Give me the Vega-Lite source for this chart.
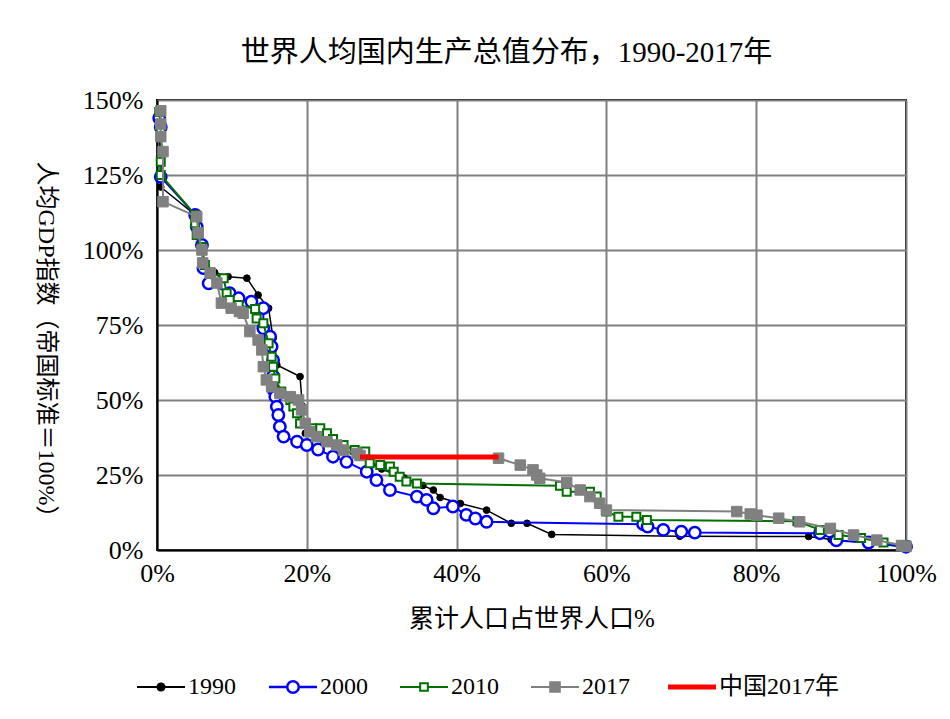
{
  "$schema": "https://vega.github.io/schema/vega-lite/v6.json",
  "width": 749,
  "height": 450,
  "autosize": {"type": "none"},
  "padding": {"left": 157, "top": 100, "right": 44, "bottom": 169},
  "background": "#ffffff",
  "title": {
    "text": "世界人均国内生产总值分布，1990-2017年",
    "font": "Liberation Serif, Noto Sans CJK SC",
    "fontSize": 29,
    "fontWeight": "normal",
    "color": "#000000",
    "anchor": "middle",
    "frame": "group",
    "dx": -25,
    "offset": 19
  },
  "config": {
    "view": {"stroke": "#000000", "strokeWidth": 2},
    "axis": {
      "labelFont": "Liberation Serif",
      "labelFontSize": 26,
      "labelColor": "#000000",
      "labelFlush": false,
      "titleFont": "Liberation Serif, Noto Sans CJK SC",
      "titleFontWeight": "normal",
      "titleColor": "#000000",
      "grid": true,
      "gridColor": "#808080",
      "gridWidth": 2,
      "gridOpacity": 1,
      "domainColor": "#000000",
      "domainWidth": 2,
      "ticks": false
    }
  },
  "data": {
    "values": [
      {"s": "1990", "x": 0.3, "y": 144},
      {"s": "1990", "x": 0.5, "y": 121},
      {"s": "1990", "x": 5.1, "y": 111.7},
      {"s": "1990", "x": 5.3, "y": 108},
      {"s": "1990", "x": 6.0, "y": 101},
      {"s": "1990", "x": 6.5, "y": 93},
      {"s": "1990", "x": 7.7, "y": 92.5},
      {"s": "1990", "x": 9.5, "y": 91.1},
      {"s": "1990", "x": 12.0, "y": 90.6},
      {"s": "1990", "x": 13.5, "y": 85},
      {"s": "1990", "x": 14.9, "y": 80.6},
      {"s": "1990", "x": 15.5, "y": 70.6},
      {"s": "1990", "x": 15.5, "y": 66.7},
      {"s": "1990", "x": 16.0, "y": 61.7},
      {"s": "1990", "x": 19.1, "y": 57.8},
      {"s": "1990", "x": 19.4, "y": 48},
      {"s": "1990", "x": 19.8, "y": 38.9},
      {"s": "1990", "x": 22.0, "y": 37},
      {"s": "1990", "x": 24.5, "y": 34},
      {"s": "1990", "x": 27.0, "y": 31},
      {"s": "1990", "x": 30.0, "y": 27},
      {"s": "1990", "x": 33.0, "y": 24},
      {"s": "1990", "x": 35.5, "y": 21.5},
      {"s": "1990", "x": 36.9, "y": 20},
      {"s": "1990", "x": 37.8, "y": 17.5},
      {"s": "1990", "x": 40.5, "y": 15.5},
      {"s": "1990", "x": 44.0, "y": 13.3},
      {"s": "1990", "x": 47.3, "y": 8.9},
      {"s": "1990", "x": 49.4, "y": 8.9},
      {"s": "1990", "x": 52.7, "y": 5.2},
      {"s": "1990", "x": 69.8, "y": 4.6},
      {"s": "1990", "x": 87.0, "y": 4.5},
      {"s": "1990", "x": 90.0, "y": 3.5},
      {"s": "1990", "x": 95.0, "y": 2.3},
      {"s": "1990", "x": 100, "y": 1},
      {"s": "2000", "x": 0.3, "y": 144},
      {"s": "2000", "x": 0.5, "y": 141},
      {"s": "2000", "x": 0.5, "y": 124.4},
      {"s": "2000", "x": 5.1, "y": 111.7},
      {"s": "2000", "x": 5.3, "y": 107.8},
      {"s": "2000", "x": 6.0, "y": 101.7},
      {"s": "2000", "x": 6.2, "y": 94},
      {"s": "2000", "x": 6.9, "y": 88.9},
      {"s": "2000", "x": 9.7, "y": 85.6},
      {"s": "2000", "x": 10.9, "y": 83.9},
      {"s": "2000", "x": 12.6, "y": 82.8},
      {"s": "2000", "x": 14.2, "y": 80.6},
      {"s": "2000", "x": 14.2, "y": 73.9},
      {"s": "2000", "x": 15.1, "y": 71.1},
      {"s": "2000", "x": 15.3, "y": 67.8},
      {"s": "2000", "x": 15.5, "y": 63.3},
      {"s": "2000", "x": 15.5, "y": 58},
      {"s": "2000", "x": 15.6, "y": 53.3},
      {"s": "2000", "x": 15.8, "y": 51.1},
      {"s": "2000", "x": 16.0, "y": 47.8},
      {"s": "2000", "x": 16.2, "y": 45},
      {"s": "2000", "x": 16.4, "y": 41.1},
      {"s": "2000", "x": 16.9, "y": 37.8},
      {"s": "2000", "x": 18.7, "y": 36.1},
      {"s": "2000", "x": 20.0, "y": 35},
      {"s": "2000", "x": 21.5, "y": 33.5},
      {"s": "2000", "x": 23.5, "y": 31.1},
      {"s": "2000", "x": 25.3, "y": 29.4},
      {"s": "2000", "x": 28.0, "y": 26.1},
      {"s": "2000", "x": 29.3, "y": 23.3},
      {"s": "2000", "x": 31.1, "y": 20},
      {"s": "2000", "x": 34.7, "y": 17.8},
      {"s": "2000", "x": 36.0, "y": 16.7},
      {"s": "2000", "x": 36.9, "y": 13.9},
      {"s": "2000", "x": 39.5, "y": 14.5},
      {"s": "2000", "x": 41.3, "y": 11.7},
      {"s": "2000", "x": 42.5, "y": 10.5},
      {"s": "2000", "x": 44.0, "y": 9.4},
      {"s": "2000", "x": 64.9, "y": 8.6},
      {"s": "2000", "x": 65.5, "y": 7.8},
      {"s": "2000", "x": 67.6, "y": 6.7},
      {"s": "2000", "x": 70.0, "y": 6.1},
      {"s": "2000", "x": 71.8, "y": 5.8},
      {"s": "2000", "x": 88.5, "y": 5.6},
      {"s": "2000", "x": 90.7, "y": 3.2},
      {"s": "2000", "x": 95.0, "y": 2.5},
      {"s": "2000", "x": 100, "y": 1.1},
      {"s": "2010", "x": 0.3, "y": 146},
      {"s": "2010", "x": 0.5, "y": 140},
      {"s": "2010", "x": 0.5, "y": 129.4},
      {"s": "2010", "x": 0.5, "y": 125},
      {"s": "2010", "x": 5.1, "y": 111.7},
      {"s": "2010", "x": 5.1, "y": 108.9},
      {"s": "2010", "x": 5.3, "y": 105},
      {"s": "2010", "x": 6.0, "y": 101},
      {"s": "2010", "x": 6.4, "y": 95},
      {"s": "2010", "x": 7.1, "y": 92.5},
      {"s": "2010", "x": 8.9, "y": 90.6},
      {"s": "2010", "x": 9.3, "y": 85.6},
      {"s": "2010", "x": 9.7, "y": 83.3},
      {"s": "2010", "x": 10.9, "y": 81.7},
      {"s": "2010", "x": 13.1, "y": 80.3},
      {"s": "2010", "x": 13.3, "y": 77.2},
      {"s": "2010", "x": 14.2, "y": 75.6},
      {"s": "2010", "x": 14.9, "y": 68.9},
      {"s": "2010", "x": 15.3, "y": 64.4},
      {"s": "2010", "x": 15.5, "y": 61.1},
      {"s": "2010", "x": 15.8, "y": 57.2},
      {"s": "2010", "x": 16.6, "y": 52.8},
      {"s": "2010", "x": 17.8, "y": 50},
      {"s": "2010", "x": 18.2, "y": 47.8},
      {"s": "2010", "x": 18.7, "y": 45.6},
      {"s": "2010", "x": 19.1, "y": 42.2},
      {"s": "2010", "x": 20.7, "y": 40.6},
      {"s": "2010", "x": 21.8, "y": 40.6},
      {"s": "2010", "x": 22.7, "y": 38.9},
      {"s": "2010", "x": 23.5, "y": 37},
      {"s": "2010", "x": 24.9, "y": 35},
      {"s": "2010", "x": 26.4, "y": 33.3},
      {"s": "2010", "x": 27.8, "y": 32.8},
      {"s": "2010", "x": 28.4, "y": 28.9},
      {"s": "2010", "x": 29.8, "y": 28.3},
      {"s": "2010", "x": 31.1, "y": 27.8},
      {"s": "2010", "x": 31.6, "y": 26.1},
      {"s": "2010", "x": 32.4, "y": 24.4},
      {"s": "2010", "x": 33.3, "y": 22.8},
      {"s": "2010", "x": 34.7, "y": 22.2},
      {"s": "2010", "x": 53.8, "y": 21.4},
      {"s": "2010", "x": 54.7, "y": 19.4},
      {"s": "2010", "x": 57.8, "y": 19.4},
      {"s": "2010", "x": 58.7, "y": 17.8},
      {"s": "2010", "x": 60.0, "y": 12.8},
      {"s": "2010", "x": 61.6, "y": 11.1},
      {"s": "2010", "x": 64.0, "y": 11.1},
      {"s": "2010", "x": 65.4, "y": 10},
      {"s": "2010", "x": 85.5, "y": 9.6},
      {"s": "2010", "x": 88.5, "y": 6.7},
      {"s": "2010", "x": 91.0, "y": 5},
      {"s": "2010", "x": 94.0, "y": 4},
      {"s": "2010", "x": 97.0, "y": 2.5},
      {"s": "2010", "x": 100, "y": 1.5},
      {"s": "2017", "x": 0.5, "y": 146.4},
      {"s": "2017", "x": 0.5, "y": 142},
      {"s": "2017", "x": 0.5, "y": 137.8},
      {"s": "2017", "x": 0.8, "y": 132.8},
      {"s": "2017", "x": 0.8, "y": 116.1},
      {"s": "2017", "x": 5.3, "y": 111.1},
      {"s": "2017", "x": 5.5, "y": 105.7},
      {"s": "2017", "x": 6.0, "y": 100},
      {"s": "2017", "x": 6.1, "y": 95.7},
      {"s": "2017", "x": 7.1, "y": 92.3},
      {"s": "2017", "x": 8.0, "y": 89},
      {"s": "2017", "x": 8.6, "y": 82.3},
      {"s": "2017", "x": 9.9, "y": 80.6},
      {"s": "2017", "x": 11.0, "y": 79.5},
      {"s": "2017", "x": 11.5, "y": 78.9},
      {"s": "2017", "x": 12.4, "y": 72.8},
      {"s": "2017", "x": 13.5, "y": 70},
      {"s": "2017", "x": 14.0, "y": 66.7},
      {"s": "2017", "x": 14.2, "y": 61.1},
      {"s": "2017", "x": 14.6, "y": 56.7},
      {"s": "2017", "x": 15.3, "y": 54.4},
      {"s": "2017", "x": 16.4, "y": 52.2},
      {"s": "2017", "x": 17.8, "y": 51.1},
      {"s": "2017", "x": 18.9, "y": 50},
      {"s": "2017", "x": 19.3, "y": 46.7},
      {"s": "2017", "x": 19.8, "y": 42.2},
      {"s": "2017", "x": 20.4, "y": 39.4},
      {"s": "2017", "x": 21.3, "y": 37.8},
      {"s": "2017", "x": 22.7, "y": 36.1},
      {"s": "2017", "x": 24.0, "y": 35},
      {"s": "2017", "x": 24.9, "y": 33.3},
      {"s": "2017", "x": 26.7, "y": 32.2},
      {"s": "2017", "x": 27.1, "y": 31.5},
      {"s": "2017", "x": 45.6, "y": 30.6},
      {"s": "2017", "x": 48.5, "y": 28.3},
      {"s": "2017", "x": 50.2, "y": 26.7},
      {"s": "2017", "x": 50.7, "y": 25},
      {"s": "2017", "x": 51.1, "y": 23.9},
      {"s": "2017", "x": 54.7, "y": 22.5},
      {"s": "2017", "x": 56.5, "y": 20},
      {"s": "2017", "x": 57.8, "y": 17.8},
      {"s": "2017", "x": 59.1, "y": 15.6},
      {"s": "2017", "x": 60.0, "y": 13.3},
      {"s": "2017", "x": 77.4, "y": 12.8},
      {"s": "2017", "x": 79.2, "y": 12},
      {"s": "2017", "x": 80.1, "y": 11.6},
      {"s": "2017", "x": 83.0, "y": 10.6},
      {"s": "2017", "x": 85.8, "y": 9.4},
      {"s": "2017", "x": 89.9, "y": 7.2},
      {"s": "2017", "x": 93.0, "y": 5},
      {"s": "2017", "x": 96.1, "y": 3.3},
      {"s": "2017", "x": 99.4, "y": 1.5},
      {"s": "2017", "x": 100, "y": 1.2},
      {"s": "中国2017年", "x": 27.1, "y": 31},
      {"s": "中国2017年", "x": 45.6, "y": 31}
    ]
  },
  "transform": [
    {"window": [{"op": "row_number", "as": "i"}], "groupby": ["s"]}
  ],
  "encoding": {
    "x": {
      "field": "x", "type": "quantitative",
      "scale": {"domain": [0, 100], "nice": false},
      "axis": {
        "values": [0, 20, 40, 60, 80, 100],
        "labelExpr": "datum.value + '%'",
        "labelPadding": 10,
        "title": "累计人口占世界人口%",
        "titleFontSize": 25,
        "titlePadding": 20
      }
    },
    "y": {
      "field": "y", "type": "quantitative",
      "scale": {"domain": [0, 150], "nice": false},
      "axis": {
        "values": [0, 25, 50, 75, 100, 125, 150],
        "labelExpr": "datum.value + '%'",
        "labelPadding": 14,
        "title": "人均GDP指数（帝国标准＝100%）",
        "titleFontSize": 24,
        "titleAngle": 90,
        "titleX": -112,
        "titleY": 245,
        "titleAlign": "center",
        "titleBaseline": "middle"
      }
    },
    "order": {"field": "i", "type": "quantitative"}
  },
  "layer": [
    {
      "transform": [{"filter": "datum.s === '1990'"}],
      "mark": {"type": "line", "strokeWidth": 1.5},
      "encoding": {
        "color": {
          "field": "s", "type": "nominal",
          "scale": {
            "domain": ["1990", "2000", "2010", "2017", "中国2017年"],
            "range": ["#000000", "#0000ff", "#007000", "#808080", "#ff0000"]
          },
          "legend": {
            "orient": "none",
            "legendX": -8,
            "legendY": 575,
            "direction": "horizontal",
            "title": null,
            "symbolSize": 2304,
            "symbolStrokeWidth": 2,
            "labelOffset": 15,
            "columnPadding": 28,
            "labelFont": "Liberation Serif, Noto Sans CJK SC",
            "labelFontSize": 24,
            "labelColor": "#000000",
            "labelLimit": 300,
            "encode": {
              "symbols": {
                "update": {
                  "shape": {"signal": "datum.value === '1990' ? 'M-1,0H-0.15M0.15,0H1M-0.15,0A0.15,0.15,0,1,0,0.15,0A0.15,0.15,0,1,0,-0.15,0Z' : datum.value === '2000' ? 'M-1,0H-0.24M0.24,0H1M-0.24,0A0.24,0.24,0,1,0,0.24,0A0.24,0.24,0,1,0,-0.24,0Z' : datum.value === '2010' ? 'M-1,0H-0.16M0.16,0H1M-0.16,-0.16H0.16V0.16H-0.16Z' : datum.value === '2017' ? 'M-1,0H1M-0.2,-0.2H0.2V0.2H-0.2Z' : 'M-1,0H1'"},
                  "fill": {"signal": "datum.value === '1990' ? '#000000' : datum.value === '2017' ? '#808080' : datum.value === '中国2017年' ? 'transparent' : '#ffffff'"},
                  "strokeWidth": {"signal": "datum.value === '中国2017年' ? 5 : datum.value === '2000' ? 2.5 : 2"},
                  "opacity": {"value": 1}
                }
              }
            }
          }
        }
      }
    },
    {
      "transform": [{"filter": "datum.s === '1990'"}],
      "mark": {"type": "point", "shape": "circle", "filled": true, "fill": "#000000", "stroke": "#000000", "strokeWidth": 1, "size": 45, "opacity": 1}
    },
    {
      "transform": [{"filter": "datum.s === '2000'"}],
      "mark": {"type": "line", "strokeWidth": 2, "color": "#0000ff"}
    },
    {
      "transform": [{"filter": "datum.s === '2000'"}],
      "mark": {"type": "point", "shape": "circle", "filled": true, "fill": "#ffffff", "stroke": "#0000ff", "strokeWidth": 2.5, "size": 130, "opacity": 1}
    },
    {
      "transform": [{"filter": "datum.s === '2010'"}],
      "mark": {"type": "line", "strokeWidth": 2, "color": "#007000"}
    },
    {
      "transform": [{"filter": "datum.s === '2010'"}],
      "mark": {"type": "point", "shape": "square", "filled": true, "fill": "#ffffff", "stroke": "#007000", "strokeWidth": 2, "size": 64, "opacity": 1}
    },
    {
      "transform": [{"filter": "datum.s === '2017'"}],
      "mark": {"type": "line", "strokeWidth": 2, "color": "#808080"}
    },
    {
      "transform": [{"filter": "datum.s === '2017'"}],
      "mark": {"type": "point", "shape": "square", "filled": true, "fill": "#808080", "stroke": "#808080", "strokeWidth": 1, "size": 110, "opacity": 1}
    },
    {
      "transform": [{"filter": "datum.s === '中国2017年'"}],
      "mark": {"type": "line", "strokeWidth": 5, "color": "#ff0000"}
    }
  ]
}
